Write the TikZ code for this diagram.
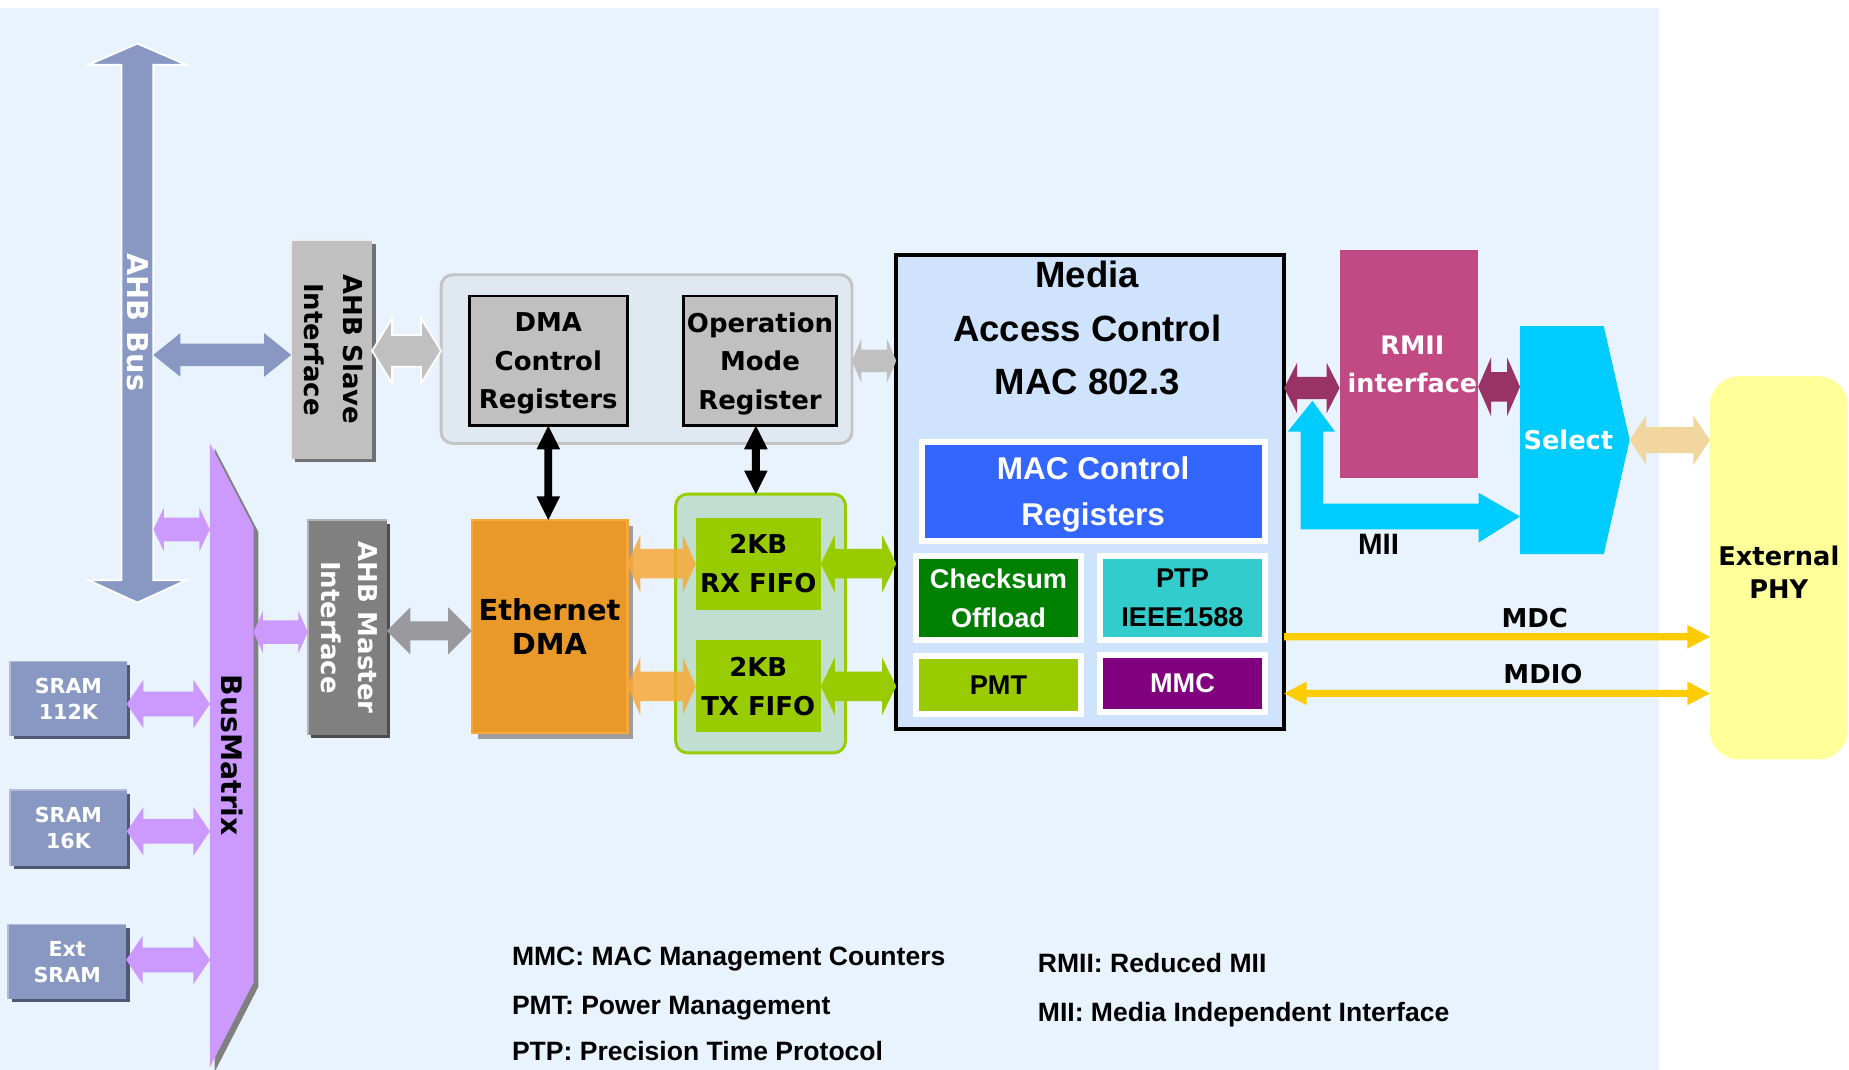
\documentclass[tikz,border=0pt]{standalone}
\usepackage{graphicx}
\usepackage{fontspec}
\setmainfont{DejaVu Sans}
\newfontfamily\arialf{Liberation Sans}
\usetikzlibrary{shadows,calc}
\definecolor{bgblue}{HTML}{E9F3FD}
\definecolor{busblue}{HTML}{8898C2}
\definecolor{slavegray}{HTML}{C0C0C0}
\definecolor{shgray}{HTML}{707070}
\definecolor{reggrp}{HTML}{E0E8F2}
\definecolor{reggrpd}{HTML}{C4C4C4}
\definecolor{ethorange}{HTML}{E8992A}
\definecolor{ethorangeL}{HTML}{F7A838}
\definecolor{ethshadow}{HTML}{9D9D9D}
\definecolor{fifogrp}{HTML}{C0DFD0}
\definecolor{fifogreen}{HTML}{99CC00}
\definecolor{macblue}{HTML}{CFE4FC}
\definecolor{ctlblue}{HTML}{3366FF}
\definecolor{ckgreen}{HTML}{008000}
\definecolor{ptpteal}{HTML}{33CCCC}
\definecolor{mmcpurple}{HTML}{800080}
\definecolor{rmiimag}{HTML}{C24A84}
\definecolor{rmiidark}{HTML}{993366}
\definecolor{cyanc}{HTML}{00CCFF}
\definecolor{tanc}{HTML}{F1D79F}
\definecolor{phyyellow}{HTML}{FFFF99}
\definecolor{mdyellow}{HTML}{FFCC00}
\definecolor{bmpurple}{HTML}{CC99FF}
\definecolor{bmshadow}{HTML}{808080}
\definecolor{sramsh}{HTML}{4F5775}
\definecolor{mastergray}{HTML}{808080}
\definecolor{mastersh}{HTML}{4D4D4D}
\definecolor{lgray}{HTML}{C0C0C0}
\definecolor{dgray}{HTML}{9A9A9E}
\definecolor{orangeA}{HTML}{F9A838}
\newcommand\fsz[2]{\fontsize{#1}{#2}\selectfont}
% horizontal double block arrow: style, from, to, shaft half, head half, head length
\newcommand\hdarrow[6]{\path[#1] let \p1=(#2), \p2=(#3) in
  (\x1,\y1) -- (\x1+#6pt,\y1+#5pt) -- (\x1+#6pt,\y1+#4pt) -- (\x2-#6pt,\y1+#4pt) -- (\x2-#6pt,\y1+#5pt)
  -- (\x2,\y1) -- (\x2-#6pt,\y1-#5pt) -- (\x2-#6pt,\y1-#4pt) -- (\x1+#6pt,\y1-#4pt) -- (\x1+#6pt,\y1-#5pt) -- cycle;}
% horizontal single block arrow (head at "to")
\newcommand\hsarrow[6]{\path[#1] let \p1=(#2), \p2=(#3) in
  (\x1,\y1+#4pt) -- (\x2-#6pt,\y1+#4pt) -- (\x2-#6pt,\y1+#5pt) -- (\x2,\y1)
  -- (\x2-#6pt,\y1-#5pt) -- (\x2-#6pt,\y1-#4pt) -- (\x1,\y1-#4pt) -- cycle;}
% vertical double block arrow: style, top, bottom, shaft half, head half, head length
\newcommand\vdarrow[6]{\path[#1] let \p1=(#2), \p2=(#3) in
  (\x1,\y1) -- (\x1+#5pt,\y1-#6pt) -- (\x1+#4pt,\y1-#6pt) -- (\x1+#4pt,\y2+#6pt) -- (\x1+#5pt,\y2+#6pt)
  -- (\x1,\y2) -- (\x1-#5pt,\y2+#6pt) -- (\x1-#4pt,\y2+#6pt) -- (\x1-#4pt,\y1-#6pt) -- (\x1-#5pt,\y1-#6pt) -- cycle;}
\begin{document}
\begin{tikzpicture}[x=1pt,y=-1pt,
  box/.style={rectangle, inner sep=0pt, outer sep=0pt},
  lbl/.style={align=center, inner sep=0pt, text depth=0pt},
  shad/.style={general shadow={fill=#1, shadow xshift=3pt, shadow yshift=-3pt}},
  vb/.style n args={2}{font=\bfseries\fsz{#1}{#2}},
  ab/.style n args={2}{font=\arialf\bfseries\fsz{#1}{#2}}]
\useasboundingbox (0,0) rectangle (1568,907);
\fill[white] (0,0) rectangle (1568,907);
\fill[bgblue] (0,7) rectangle (1407,907);

% level coordinates
\coordinate (yA) at (0,301);
\coordinate (yB) at (0,297.5);
\coordinate (yC) at (0,306);
\coordinate (xO) at (641,0);
\coordinate (yM) at (0,535);
\coordinate (yR) at (0,329);
\coordinate (yS) at (0,328);
\coordinate (yMDC) at (0,540);
\coordinate (yMDIO) at (0,588);
\coordinate (yP1) at (0,449);
\coordinate (yP2) at (0,536);
\coordinate (yS1) at (0,597);
\coordinate (yS2) at (0,705);
\coordinate (yS3) at (0,814);

% AHB bus
\fill[busblue, draw=white, line width=1.5pt] (116.5,37) -- (158,55) -- (130,55) -- (130,492) -- (158,492)
  -- (116.5,511) -- (75,492) -- (103,492) -- (103,55) -- (75,55) -- cycle;
\node[box, minimum width=27pt, minimum height=437pt, text=white, vb={24.4}{30}] (bus) at (116.5,273.5) {\rotatebox{-90}{AHB Bus}};

% BusMatrix
\fill[bmshadow] (182,380) -- (219,451) -- (219,837) -- (182,909) -- cycle;
\fill[bmpurple] (178,376) -- (215,447) -- (215,833) -- (178,905) -- cycle;
\node[box, minimum width=37pt, minimum height=529pt, vb={24}{28}] (bm) at (196.5,640.5) {\rotatebox{-90}{BusMatrix}};

% AHB slave
\node[box, fill=slavegray, shad=shgray, minimum width=68.5pt, minimum height=185.5pt, vb={22}{33}] (slave) at (281.25,296.25)
  {\rotatebox{-90}{\begin{tabular}{@{}c@{}}AHB Slave\\Interface\end{tabular}}};
\draw[white!75!slavegray, line width=1.5pt] (slave.south west) -- (slave.north west) -- (slave.north east);

% AHB master
\node[box, fill=mastergray, shad=mastersh, minimum width=67pt, minimum height=182pt, text=white, vb={22}{31}] (master) at (294.5,532)
  {\rotatebox{-90}{\begin{tabular}{@{}c@{}}AHB Master\\Interface\end{tabular}}};
\draw[white!40!mastergray, line width=1.5pt] (master.south west) -- (master.north west) -- (master.north east);

% SRAMs
\node[box, fill=busblue, shad=sramsh, minimum width=99pt, minimum height=63pt, lbl, text=white, vb={17.5}{22}] (sram1) at (58,592.5) {SRAM\\112K};
\node[box, fill=busblue, shad=sramsh, minimum width=99pt, minimum height=64pt, lbl, text=white, vb={17.5}{22}] (sram2) at (58,702) {SRAM\\16K};
\node[box, fill=busblue, shad=sramsh, minimum width=100pt, minimum height=63pt, lbl, text=white, vb={17.5}{22}] (sram3) at (57,815.5) {Ext\\SRAM};
\foreach \s in {sram1,sram2,sram3}
  \draw[white!35!busblue, line width=1.5pt] (\s.south west) -- (\s.north west) -- (\s.north east);

% register group
\node[box, fill=reggrp, draw=reggrpd, line width=2.5pt, rounded corners=10pt, minimum width=348.5pt, minimum height=143pt] (regs) at (548.25,304.5) {};
\node[box, fill=slavegray, draw=black, line width=2.5pt, minimum width=134pt, minimum height=110pt, lbl, vb={22}{32.5}] (dmactrl) at (465,306) {DMA\\Control\\Registers};
\node[box, fill=slavegray, draw=black, line width=2.5pt, minimum width=129pt, minimum height=110pt, lbl, vb={22}{32.5}] (opmode) at (644.5,306) {Operation\\Mode\\Register};

% Ethernet DMA
\node[box, fill=ethorange, draw=ethorangeL, line width=2pt, general shadow={fill=ethshadow, shadow xshift=5pt, shadow yshift=-5pt},
  minimum width=132pt, minimum height=180.5pt, lbl, vb={24.5}{29}] (ethdma) at (466,531.25) {Ethernet\\DMA};

% FIFOs
\node[box, fill=fifogrp, draw=fifogreen, line width=2.5pt, rounded corners=10pt, minimum width=144pt, minimum height=219.5pt] (fifos) at (645,528.75) {};
\node[box, fill=fifogreen, minimum width=106pt, minimum height=78pt, lbl, vb={22}{33}] (rx) at (643,478) {2KB\\RX FIFO};
\node[box, fill=fifogreen, minimum width=106pt, minimum height=78pt, lbl, vb={22}{33}] (tx) at (643,582) {2KB\\TX FIFO};

% MAC
\node[box, fill=macblue, draw=black, line width=3.5pt, minimum width=329pt, minimum height=402pt] (mac) at (924.5,417) {};
\node[lbl, ab={31}{45.5}] (mactitle) at (922,278) {Media\\Access Control\\MAC 802.3};
\node[box, fill=ctlblue, draw=white, line width=5pt, minimum width=291pt, minimum height=84pt, lbl, text=white, ab={26.7}{39}] (macctl) at (927,416.75) {MAC Control\\Registers};
\node[box, fill=ckgreen, draw=white, line width=5pt, minimum width=139.5pt, minimum height=71pt, lbl, text=white, ab={23}{33}] (cks) at (846.75,507) {Checksum\\Offload};
\node[box, fill=ptpteal, draw=white, line width=5pt, minimum width=139.5pt, minimum height=71pt, lbl, ab={23}{33}] (ptp) at (1002.75,507) {PTP\\IEEE1588};
\node[box, fill=fifogreen, draw=white, line width=5pt, minimum width=139.5pt, minimum height=49pt, lbl, ab={23}{27}] (pmt) at (846.75,581) {PMT};
\node[box, fill=mmcpurple, draw=white, line width=5pt, minimum width=139.5pt, minimum height=48pt, lbl, text=white, ab={23}{27}] (mmc) at (1002.75,579.5) {MMC};

% RMII
\node[box, fill=rmiimag, minimum width=117.5pt, minimum height=193.5pt, lbl, text=white, vb={21.6}{32.5}] (rmii) at (1194.75,308.75) {\hspace*{6pt}RMII\\\hspace*{6pt}interface};

% Select
\fill[cyanc] (1289,276.5) -- (1360,276.5) -- (1382,373) -- (1360,470) -- (1289,470) -- cycle;
\node[box, minimum width=93pt, minimum height=193.5pt, text=white, vb={21.8}{26}] (select) at (1335.5,373.25) {\hspace*{-11pt}Select};

% External PHY
\node[box, fill=phyyellow, rounded corners=25pt, minimum width=117pt, minimum height=325pt, lbl, text height=51.5pt, vb={21.8}{27.5}] (phy) at (1508.5,481.5)
  {External\\PHY};

% ---- connectors ----
\hdarrow{fill=busblue}{bus.east |- yA}{slave.west |- yA}{9.5}{18.5}{23}
\hdarrow{fill=lgray, draw=white, line width=1.5pt}{slave.east |- yB}{regs.west |- yB}{13.5}{27.5}{17}
\hdarrow{fill=lgray}{regs.east |- yC}{mac.west |- yC}{9.5}{19}{8}
\vdarrow{fill=black}{dmactrl.south}{ethdma.north}{3.3}{10}{20}
\vdarrow{fill=black}{opmode.south -| xO}{fifos.north -| xO}{3.3}{10}{20}
\hdarrow{fill=dgray}{master.east |- yM}{ethdma.west |- yM}{8}{20}{20}
\hdarrow{fill=orangeA, fill opacity=0.85}{ethdma.east |- rx.west}{rx.west}{12.5}{24.5}{11}
\hdarrow{fill=orangeA, fill opacity=0.85}{ethdma.east |- tx.west}{tx.west}{12.5}{24.5}{11}
\hdarrow{fill=fifogreen}{rx.east}{mac.west |- rx.east}{12.5}{24.5}{12}
\hdarrow{fill=fifogreen}{tx.east}{mac.west |- tx.east}{12.5}{24.5}{12}
\hdarrow{fill=rmiidark}{mac.east |- yR}{rmii.west |- yR}{9.5}{21.5}{11}
\hdarrow{fill=rmiidark}{rmii.east |- yS}{select.west |- yS}{12.5}{25}{11}
\hdarrow{fill=tanc}{select.east}{phy.west |- select.east}{11}{21}{14}
\hsarrow{fill=mdyellow}{mac.east |- yMDC}{phy.west |- yMDC}{3}{10}{19}
\hdarrow{fill=mdyellow}{mac.east |- yMDIO}{phy.west |- yMDIO}{3}{10}{19}
\hdarrow{fill=bmpurple}{bus.east |- yP1}{bm.west |- yP1}{10}{18.5}{9}
\hdarrow{fill=bmpurple}{bm.east |- yP2}{master.west |- yP2}{10}{18}{8}
\hdarrow{fill=bmpurple}{sram1.east |- yS1}{bm.west |- yS1}{10.5}{20.5}{14}
\hdarrow{fill=bmpurple}{sram2.east |- yS2}{bm.west |- yS2}{10.5}{20.5}{14}
\hdarrow{fill=bmpurple}{sram3.east |- yS3}{bm.west |- yS3}{10.5}{20.5}{14}

% MII path
\fill[cyanc] (1113,340) -- (1132,366) -- (1122,366) -- (1122,427) -- (1254,427) -- (1254,418) -- (1289,438)
  -- (1254,460) -- (1254,449) -- (1103,449) -- (1103,366) -- (1092,366) -- cycle;

% labels
\node[inner sep=0pt, ab={25}{30}] (miil) at (1169,462) {MII};
\node[inner sep=0pt, vb={22}{26}] (mdcl) at (1301.5,524) {MDC};
\node[inner sep=0pt, vb={22}{26}] (mdiol) at (1308.5,572) {MDIO};

% legend
\node[anchor=base west, inner sep=0pt, ab={22.5}{27}] (lg1) at (434,819) {MMC: MAC Management Counters};
\node[anchor=base west, inner sep=0pt, ab={22.5}{27}] (lg2) at (434,860) {PMT: Power Management};
\node[anchor=base west, inner sep=0pt, ab={22.5}{27}] (lg3) at (434,899) {PTP: Precision Time Protocol};
\node[anchor=base west, inner sep=0pt, ab={22.5}{27}] (lg4) at (880,825) {RMII: Reduced MII};
\node[anchor=base west, inner sep=0pt, ab={22.5}{27}] (lg5) at (880,866) {MII: Media Independent Interface};
\end{tikzpicture}
\end{document}
